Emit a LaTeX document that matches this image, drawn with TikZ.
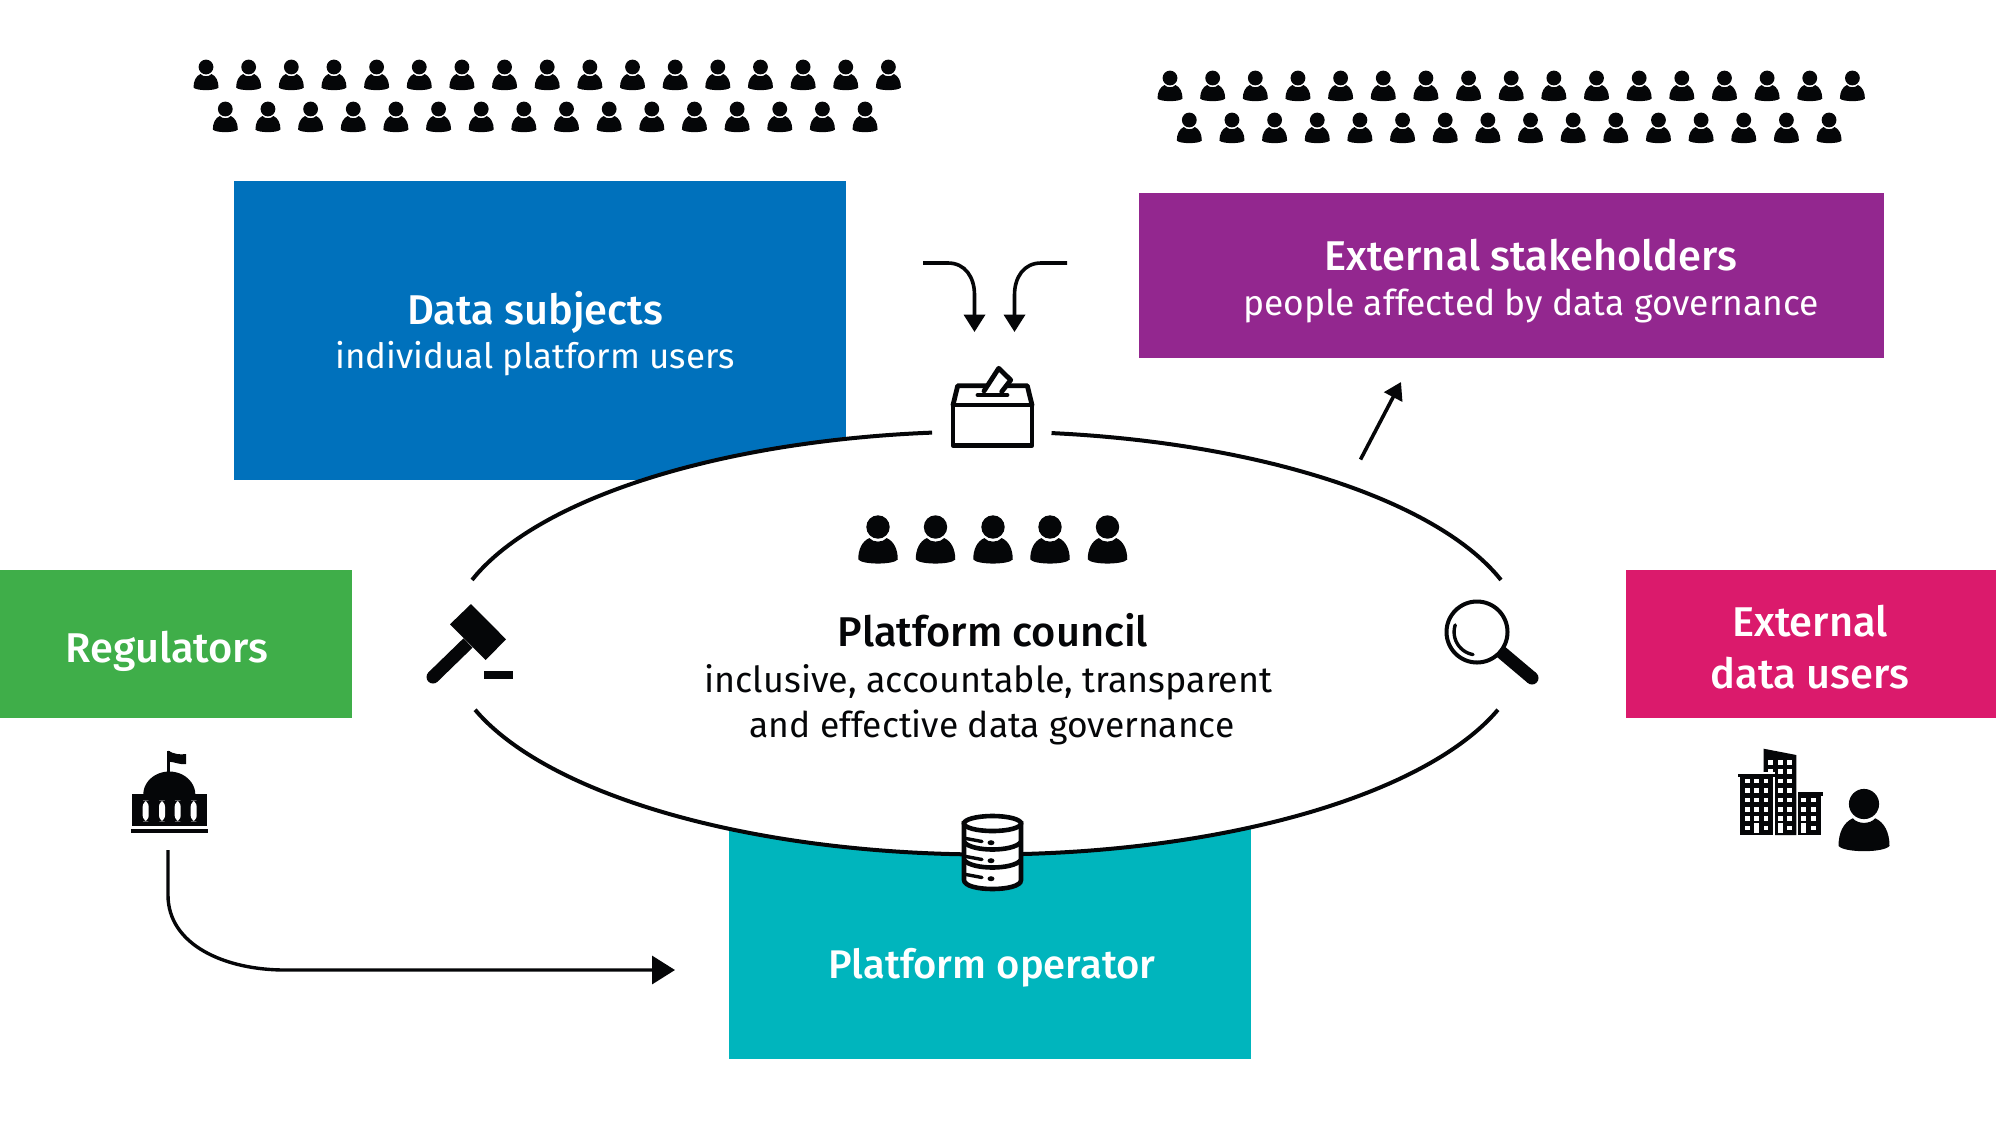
\documentclass[tikz,border=0pt]{standalone}
\usepackage{fontspec}
\setmainfont{Fira Sans}[BoldFont={Fira Sans Medium}]
\usetikzlibrary{arrows.meta}
\definecolor{ink}{HTML}{050608}
\definecolor{cblue}{HTML}{0071BC}
\definecolor{cpurple}{HTML}{93278F}
\definecolor{cgreen}{HTML}{3FAE49}
\definecolor{cpink}{HTML}{DB1A6C}
\definecolor{cteal}{HTML}{00B5BD}
\tikzset{
  x=0.5pt,y=-0.5pt,
  panel/.style={fill=#1,draw=none,inner sep=0pt,outer sep=0pt,anchor=north west},
  title/.style={font=\fontsize{20.8}{24}\selectfont\bfseries,text=#1,inner sep=0pt},
  title/.default=white,
  sub/.style={font=\fontsize{17.7}{21}\selectfont,text=#1,inner sep=0pt},
  sub/.default=white,
  oval/.style={draw=ink,line width=2pt},
  link/.style={draw=ink,line width=1.8pt,-{Triangle[length=8.7pt,width=10.5pt]}},
  biglink/.style={draw=ink,line width=1.7pt,-{Triangle[length=11.5pt,width=14pt]}},
  person/.pic={
    \fill[ink] (0,0) circle (7.4);
    \fill[ink] (-12.5,20.5) .. controls (-12.5,14) and (-10,9) .. (-5.5,7)
      .. controls (-3,10) and (3,10) .. (5.5,7)
      .. controls (10,9) and (12.5,14) .. (12.5,20.5)
      .. controls (10,24) and (-10,24) .. cycle;
  },
  personrow/.pic={
    \foreach \i in {0,...,16} \pic at ({\i*42.65},0) {person};
    \foreach \i in {0,...,15} \pic at ({19.3+\i*42.65},42) {person};
  },
}
\begin{document}
\begin{tikzpicture}
\useasboundingbox (0,0) rectangle (1996,1142);
% panels
\node[panel=cblue,minimum width=306pt,minimum height=149.5pt] (subjects) at (234,181) {};
\node[panel=cpurple,minimum width=372.5pt,minimum height=82.5pt] (stake) at (1139,193) {};
\node[panel=cgreen,minimum width=176pt,minimum height=74pt] (reg) at (0,570) {};
\node[panel=cpink,minimum width=185.5pt,minimum height=74pt] (users) at (1625.5,570) {};
\node[panel=cteal,minimum width=261pt,minimum height=160pt] (operator) at (729,739) {};
% ellipse body
\fill[white] (986.5,643) ellipse [x radius=539,y radius=211.5];
\draw[oval] plot[smooth,domain=17.35:83.07,samples=40] ({986.5+539*cos(\x)},{643-211.5*sin(\x)});
\draw[oval] plot[smooth,domain=95.8:162.65,samples=40] ({986.5+539*cos(\x)},{643-211.5*sin(\x)});
\draw[oval] plot[smooth,domain=198.4:341.6,samples=80] ({986.5+539*cos(\x)},{643-211.5*sin(\x)});
% texts
\node[title] (t1) at (535,312) {Data subjects};
\node[sub,font=\fontsize{17.45}{21}\selectfont] (s1) at (535,359) {individual platform users};
\node[title] (t2) at (1531,255) {External stakeholders};
\node[sub] (s2) at (1531,306) {people affected by data governance};
\node[title] (t3) at (167,651) {Regulators};
\node[title] (t4) at (1810,621) {External};
\node[title] (t5) at (1810,673) {data users};
\node[title,font=\fontsize{20}{24}\selectfont\bfseries] (t6) at (992,968) {Platform operator};
\node[title=ink] (t7) at (993,630) {Platform council};
\node[sub=ink,font=\fontsize{17.95}{21}\selectfont] (s7) at (988.5,682) {inclusive, accountable, transparent};
\node[sub=ink] (s8) at (992,727) {and effective data governance};
% crowds
\pic at (206,67) {personrow};
\pic at (1170,78) {personrow};
% council
\foreach \x in {878,935.5,993,1050,1107.5} \pic[scale=1.58] at (\x,527) {person};
% ballot box
\begin{scope}[ink,line width=2.4pt,line join=round,line cap=round]
  \draw (953,405) -- (957.7,385.7) -- (1027.3,385.7) -- (1032,405);
  \draw (953,405) rectangle (1032,445.5);
  \draw[fill=white] (984,391) -- (998.7,368.3) -- (1010.7,380) -- (1001.7,391.7);
  \draw (978,395) -- (1007,395);
\end{scope}
% arrows into the ballot box
\coordinate (c1) at (923,263);
\coordinate (c2) at (1067,263);
\coordinate (c3) at (974.5,332);
\coordinate (c4) at (1014.5,332);
\draw[link] (c1) -- (948,263) .. controls (965,263) and (974.5,277) .. (974.5,295) -- (c3);
\draw[link] (c2) -- (1041,263) .. controls (1024,263) and (1014.5,277) .. (1014.5,295) -- (c4);
% arrow to stakeholders
\coordinate (c5) at (1360.5,459.5);
\coordinate (c6) at (1401,382);
\draw[link,-{Triangle[length=8.5pt,width=10pt]}] (c5) -- (c6);
% regulator arrow
\coordinate (c7) at (168,850);
\coordinate (c8) at (675,970);
\draw[biglink] (c7) -- (168,895) .. controls (168,945) and (225,970) .. (285,970) -- (c8);
% gavel
\fill[ink] (471,604) -- (506,639.3) -- (485.7,660) -- (450,624.3) -- cycle;
\draw[ink,line width=6.5pt] (468,643) -- (433,677);
\fill[ink] (433,677) circle (6.5);
\fill[ink] (484,671) rectangle (513,679);
% magnifier
\draw[ink,line width=2pt] (1477,632) circle (30.5);
\draw[ink,line width=1.7pt,line cap=round] plot[smooth,domain=162:260,samples=20] ({1477+22.9*cos(\x)},{632-22.9*sin(\x)});
\draw[ink,line width=6.5pt] (1500,651) -- (1532,678);
\fill[ink] (1532,678) circle (6.5);
% capitol
\fill[ink] (132.3,794) rectangle (207,826);
\fill[ink] plot[smooth,domain=0:180,samples=30] ({169.3+26*cos(\x)},{794.5-23*sin(\x)}) -- cycle;
\fill[ink] (166.8,751) rectangle (169.8,772);
\fill[ink] (168,750.7) .. controls (174,754) and (180,755) .. (186,754) -- (186,764) .. controls (180,765) and (175,762) .. (169.5,761.7) -- cycle;
\foreach \x in {145.7,162,177.7,193.7}
  \fill[white,rounded corners=2.9pt] ({\x-3},800.7) rectangle ({\x+3},821.3);
\fill[ink] (131,829) rectangle (208,832.7);
% buildings
\fill[ink] (1763.7,748.7) -- (1796.3,755) -- (1796.3,835) -- (1763.7,835) -- cycle;
\foreach \x in {1770.7,1780.3,1789.7} \foreach \y in {762.3,771.7,781,790.3,800,809.3,818.7}
  \fill[white] ({\x-2.3},{\y-2.3}) rectangle ({\x+2.3},{\y+2.3});
\fill[white] (1768.4,825.7) rectangle (1773,830.3);
\fill[white] (1778,823) rectangle (1782.6,833);
\fill[white] (1787.4,825.7) rectangle (1792,830.3);
\fill[white] (1753,772) rectangle (1775,836);
\fill[ink] (1740,773.7) rectangle (1773.3,835);
\fill[ink] (1737.7,773.7) rectangle (1776.7,776.7);
\foreach \x in {1747.3,1756.7,1766} \foreach \y in {781,790.3,800,809.3,818.7}
  \fill[white] ({\x-2.3},{\y-2.3}) rectangle ({\x+2.3},{\y+2.3});
\fill[white] (1745,825.7) rectangle (1749.6,830.3);
\fill[white] (1754.3,823) rectangle (1759,833);
\fill[white] (1763.7,825.7) rectangle (1768.3,830.3);
\fill[ink] (1798.3,792.3) rectangle (1821,835);
\fill[ink] (1797.7,792.3) rectangle (1822.7,795.7);
\foreach \x in {1803.7,1813.3} \foreach \y in {800,809.3,818.7}
  \fill[white] ({\x-2.3},{\y-2.3}) rectangle ({\x+2.3},{\y+2.3});
\fill[white] (1801.4,823) rectangle (1806,833);
\fill[white] (1811,825.7) rectangle (1815.6,830.3);
\pic[scale=2.04] at (1864,804) {person};
% database
\begin{scope}[ink,line width=2.3pt]
  \fill[white,draw=ink] (964,823.5) -- (964,880) .. controls (964,892) and (1021,892) .. (1021,880) -- (1021,823.5) -- cycle;
  \draw[fill=white] (992.5,823.5) ellipse [x radius=28.5,y radius=7.5];
  \draw (964,842) .. controls (972,852) and (1013,852) .. (1021,842);
  \draw (964,860) .. controls (972,870) and (1013,870) .. (1021,860);
  \draw[line width=1.7pt,line cap=round] (966,838.5) -- (982,841.5);
  \draw[line width=1.7pt,line cap=round] (966,856.5) -- (982,859.5);
  \draw[line width=1.7pt,line cap=round] (966,874.5) -- (982,877.5);
  \foreach \y in {842.7,860.7,878.7} \fill (991,\y) ellipse [x radius=3.5,y radius=2.5];
\end{scope}
\end{tikzpicture}
\end{document}
